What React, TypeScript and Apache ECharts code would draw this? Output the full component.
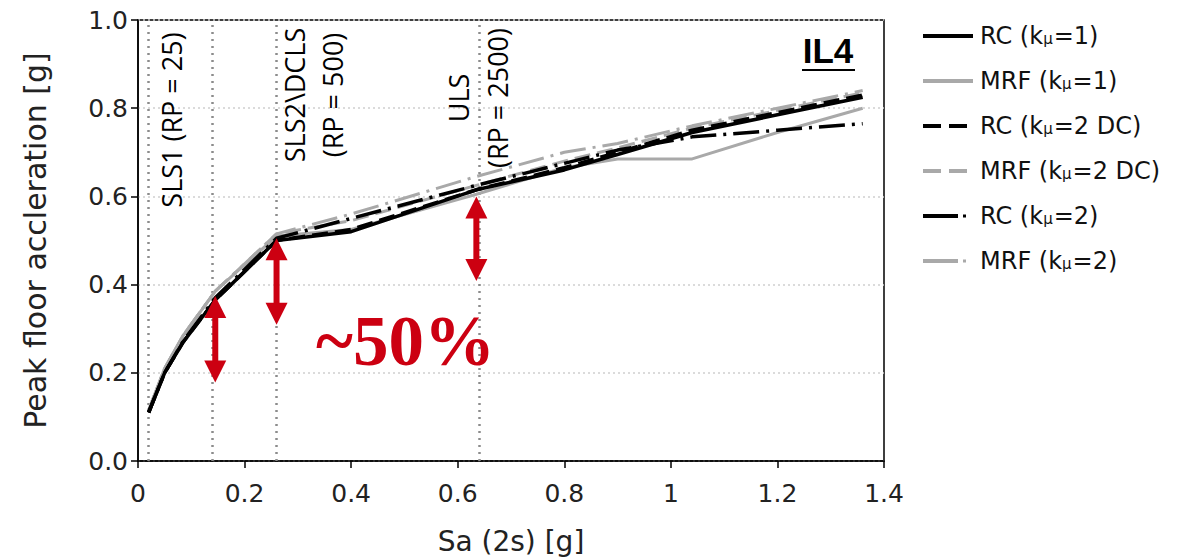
import React, { useEffect, useRef } from "react";
import * as echarts from "echarts";

// ---- data ----
const sa = [0.02, 0.05, 0.085, 0.145, 0.26, 0.4, 0.635, 0.8, 0.9, 1.04, 1.2, 1.36];
const rcK1 = [0.11, 0.2, 0.27, 0.365, 0.5, 0.52, 0.615, 0.66, 0.695, 0.745, 0.785, 0.825];
const mrfK1 = [0.115, 0.21, 0.285, 0.385, 0.51, 0.525, 0.605, 0.665, 0.685, 0.685, 0.745, 0.8];
const rcK2DC = [0.11, 0.2, 0.27, 0.365, 0.5, 0.525, 0.615, 0.665, 0.7, 0.75, 0.79, 0.83];
const mrfK2DC = [0.115, 0.21, 0.285, 0.385, 0.515, 0.545, 0.625, 0.68, 0.71, 0.755, 0.795, 0.835];
const rcK2 = [0.11, 0.2, 0.272, 0.37, 0.505, 0.55, 0.625, 0.675, 0.705, 0.735, 0.75, 0.765];
const mrfK2 = [0.115, 0.21, 0.285, 0.385, 0.515, 0.56, 0.645, 0.7, 0.72, 0.76, 0.8, 0.84];

const limitSa = [0.022, 0.145, 0.26, 0.635];
const arrowSa = [0.145, 0.26, 0.635];
const arrowTop = [0.374, 0.505, 0.6];
const arrowBottom = [0.178, 0.309, 0.408];

const seriesNames = [
  "RC (k{s|μ}=1)",
  "MRF (k{s|μ}=1)",
  "RC (k{s|μ}=2 DC)",
  "MRF (k{s|μ}=2 DC)",
  "RC (k{s|μ}=2)",
  "MRF (k{s|μ}=2)",
];

const BLACK = "#000000";
const GRAY = "#a9a9a9";
const RED = "#cc0011";

const ICON_SOLID = "path://M0,0H50V4H0Z";
const ICON_DASHED = "path://M0,0H18V4H0Z M26,0H44V4H26Z M49.9,1.9H50V2.1H49.9Z";
const ICON_DASHDOT = "path://M0,0H35V4H0Z M40,0.5H43V3.5H40Z M49.9,1.9H50V2.1H49.9Z";
const legendIcons = [ICON_SOLID, ICON_SOLID, ICON_DASHED, ICON_DASHED, ICON_DASHDOT, ICON_DASHDOT];

function pairs(ys: number[]) {
  return sa.map((x, i) => [x, ys[i]]);
}

export default function App() {
  const ref = useRef<HTMLDivElement>(null);
  useEffect(() => {
    if (!ref.current) return;
    const chart = echarts.init(ref.current, undefined, { renderer: "svg" });
    const mkLine = (name: string, ys: number[], color: string, width: number, type: any, z: number) => ({
      name,
      type: "line",
      data: pairs(ys),
      symbol: "none",
      showSymbol: false,
      z,
      lineStyle: { color, width, type, cap: "butt" },
      itemStyle: { color },
    });
    const dashed = [16, 7];
    const dashDot = [26, 7, 3, 7];
    const series: any[] = [
      {
        ...mkLine(seriesNames[1], mrfK1, GRAY, 3, "solid", 2),
        markLine: {
          silent: true,
          symbol: "none",
          label: { show: false },
          lineStyle: { color: "#8c8c8c", type: [2, 5], width: 2.5 },
          data: limitSa.map((x) => ({ xAxis: x })),
          z: 1,
        },
      },
      mkLine(seriesNames[3], mrfK2DC, GRAY, 3, dashed, 2),
      mkLine(seriesNames[5], mrfK2, GRAY, 3, dashDot, 2),
      mkLine(seriesNames[0], rcK1, BLACK, 3.5, "solid", 3),
      mkLine(seriesNames[2], rcK2DC, BLACK, 3.5, dashed, 3),
      mkLine(seriesNames[4], rcK2, BLACK, 3.5, dashDot, 3),
      {
        type: "custom",
        name: "arrows",
        z: 10,
        data: arrowSa.map((x, i) => [x, arrowTop[i], arrowBottom[i]]),
        encode: { x: 0, y: [1, 2] },
        renderItem: (params: any, api: any) => {
          const x = api.value(0);
          const p1 = api.coord([x, api.value(1)]);
          const p2 = api.coord([x, api.value(2)]);
          const h = 22;
          const w = 11;
          const sw = 3;
          const style = { fill: RED };
          return {
            type: "group",
            children: [
              { type: "rect", shape: { x: p1[0] - sw, y: p1[1] + h - 1, width: sw * 2, height: p2[1] - p1[1] - 2 * h + 2 }, style },
              { type: "polygon", shape: { points: [[p1[0], p1[1]], [p1[0] - w, p1[1] + h], [p1[0] + w, p1[1] + h]] }, style },
              { type: "polygon", shape: { points: [[p2[0], p2[1]], [p2[0] - w, p2[1] - h], [p2[0] + w, p2[1] - h]] }, style },
            ],
          };
        },
      },
    ];

    const vText = (text: string, x: number, y: number, lh: number) => ({
      type: "text",
      x,
      y,
      rotation: Math.PI / 2,
      z: 20,
      style: {
        text,
        fontSize: 27,
        fontFamily: "Open Sans",
        fill: "#000",
        align: "center",
        verticalAlign: "middle",
        lineHeight: lh,
      },
    });

    chart.setOption({
      animation: false,
      backgroundColor: "#fff",
      grid: {
        left: 138,
        top: 20,
        right: 300,
        bottom: 96,
        show: true,
        borderColor: "#000",
        borderWidth: 1.5,
        backgroundColor: "transparent",
      },
      legend: {
        orient: "vertical",
        left: 918,
        top: 17,
        itemWidth: 50,
        itemHeight: 20,
        itemGap: 19,
        symbolKeepAspect: true,
        data: seriesNames.map((name, i) => ({ name, icon: legendIcons[i] })),
        selectedMode: false,
        formatter: (n: string) => n,
        textStyle: {
          fontFamily: "DejaVu Sans",
          fontSize: 24,
          color: "#111",
          padding: [0, 0, 0, 2],
          lineHeight: 20,
          rich: {
            s: { fontSize: 15, verticalAlign: "bottom", padding: [9, 1, 0, 0], fontFamily: "DejaVu Sans", color: "#111", lineHeight: 20 },
          },
        },
      },
      xAxis: {
        type: "value",
        min: 0,
        max: 1.4,
        interval: 0.2,
        name: "Sa (2s) [g]",
        nameLocation: "middle",
        nameGap: 66,
        nameTextStyle: { fontFamily: "DejaVu Sans", fontSize: 28, color: "#222" },
        axisLine: { show: true, lineStyle: { color: "#000", width: 1.5 } },
        axisTick: { show: true, inside: false, length: 7, lineStyle: { color: "#000", width: 1.5 } },
        axisLabel: {
          fontFamily: "DejaVu Sans",
          fontSize: 25,
          color: "#222",
          margin: 20,
          formatter: (v: number) => String(Math.round(v * 10) / 10),
        },
        splitLine: { show: false },
      },
      yAxis: {
        type: "value",
        min: 0,
        max: 1.0,
        interval: 0.2,
        name: "Peak floor accleration [g]",
        nameLocation: "middle",
        nameGap: 88,
        nameTextStyle: { fontFamily: "DejaVu Sans", fontSize: 30, color: "#222" },
        axisLine: { show: true, lineStyle: { color: "#000", width: 1.5 } },
        axisTick: { show: true, inside: false, length: 7, lineStyle: { color: "#000", width: 1.5 } },
        axisLabel: {
          fontFamily: "DejaVu Sans",
          fontSize: 25,
          color: "#222",
          margin: 10,
          formatter: (v: number) => v.toFixed(1),
        },
        splitLine: { show: true, lineStyle: { color: "#cfcfcf", type: [2, 3], width: 1.5 } },
      },
      graphic: [
        vText("SLS1 (RP = 25)", 171, 120, 38),
        vText("SLS2\\DCLS\n(RP = 500)", 313, 95, 38),
        vText("ULS\n(RP = 2500)", 478, 98, 39),
        {
          type: "text",
          x: 828,
          y: 50,
          z: 20,
          style: {
            text: "IL4",
            fontSize: 35,
            fontWeight: "bold",
            fontFamily: "Liberation Sans",
            fill: "#000",
            align: "center",
            verticalAlign: "middle",
          },
        },
        {
          type: "line",
          z: 20,
          shape: { x1: 802, y1: 70, x2: 855, y2: 70 },
          style: { stroke: "#000", lineWidth: 2 },
        },
        {
          type: "text",
          x: 316,
          y: 341,
          z: 20,
          style: {
            text: "~50%",
            fontSize: 71,
            fontWeight: "bold",
            fontFamily: "Liberation Serif",
            fill: RED,
            align: "left",
            verticalAlign: "middle",
          },
        },
      ],
      series,
    });
    return () => chart.dispose();
  }, []);
  return <div ref={ref} style={{ width: 1184, height: 560, position: "absolute", left: 0, top: 0 }} />;
}
